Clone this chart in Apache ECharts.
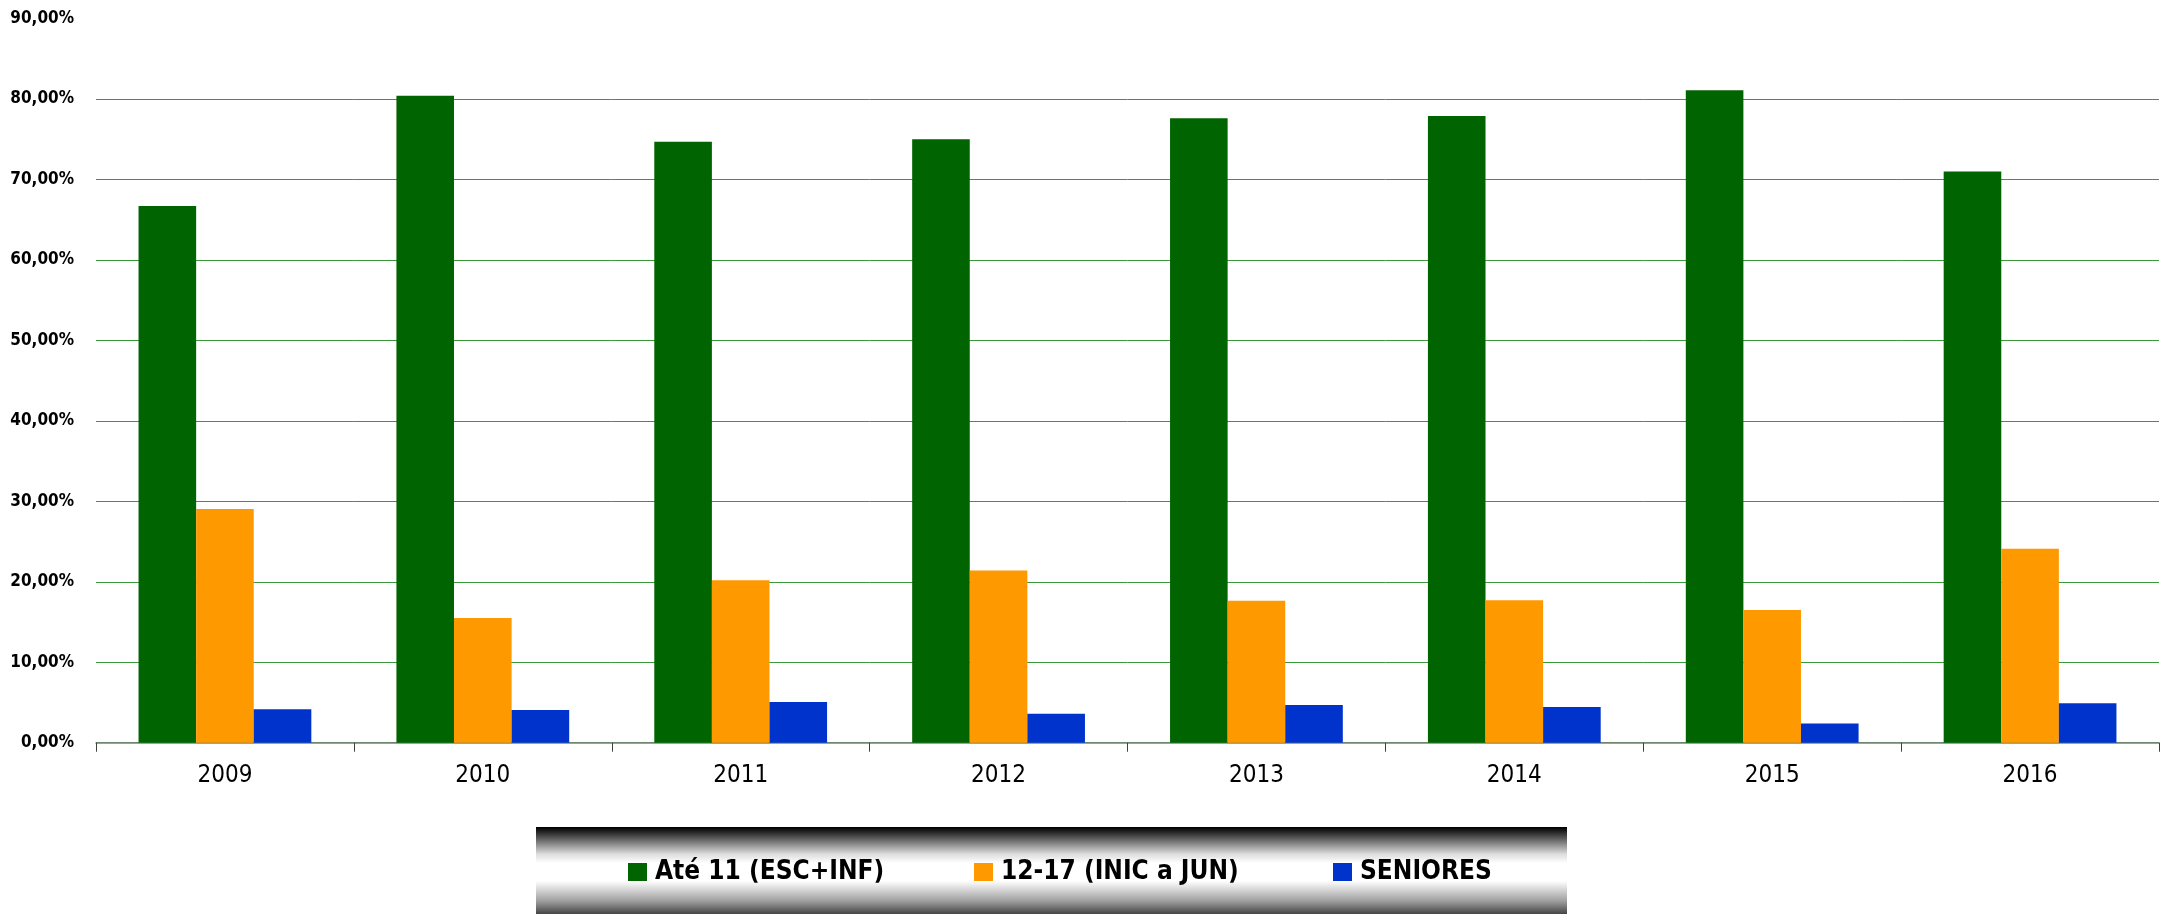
<!DOCTYPE html>
<html>
<head>
<meta charset="utf-8">
<script src="https://cdn.jsdelivr.net/npm/echarts@6/dist/echarts.min.js"></script>
<style>
html,body{margin:0;padding:0;background:#fff;}
#chart{width:2169px;height:914px;}
</style>
</head>
<body>
<div id="chart"></div>
<script>
const categories = ['2009', '2010', '2011', '2012', '2013', '2014', '2015', '2016'];
const seriesNames = ['Até 11 (ESC+INF)', '12-17 (INIC a JUN)', 'SENIORES'];
const ate11 = [66.7, 80.4, 74.7, 75.0, 77.6, 77.9, 81.1, 71.0];
const inicJun = [29.05, 15.5, 20.2, 21.4, 17.65, 17.7, 16.5, 24.1];
const seniores = [4.15, 4.05, 5.05, 3.6, 4.7, 4.45, 2.4, 4.9];
const colors = ['#006400', '#FF9900', '#0033CC'];

const FONT = '"DejaVu Sans Condensed", "Liberation Sans Narrow", sans-serif';
const legendLefts = [628, 974, 1333];

const chart = echarts.init(document.getElementById('chart'), null, {renderer: 'canvas'});

const legends = seriesNames.map((n, i) => ({
  z: 10,
  left: legendLefts[i],
  top: 857,
  padding: 0,
  itemWidth: 19,
  itemHeight: 18,
  icon: 'rect',
  textStyle: {fontFamily: FONT, fontWeight: 'bold', fontSize: 26, color: '#000', lineHeight: 30, padding: [0, 0, 0, 3]},
  data: [n]
}));

chart.setOption({
  animation: false,
  backgroundColor: '#ffffff',
  grid: {left: 96, right: 10, top: 18.6, bottom: 171.3},
  graphic: [{
    type: 'rect',
    z: 0,
    shape: {x: 536, y: 827, width: 1031, height: 90},
    style: {
      fill: new echarts.graphic.LinearGradient(0, 0, 0, 1, [
        {offset: 0, color: '#000000'},
        {offset: 0.04, color: '#1a1a1a'},
        {offset: 0.3, color: '#dcdcdc'},
        {offset: 0.4, color: '#ffffff'},
        {offset: 0.6, color: '#ffffff'},
        {offset: 0.82, color: '#a0a0a0'},
        {offset: 1, color: '#303030'}
      ])
    }
  }],
  legend: legends,
  xAxis: {
    type: 'category',
    data: categories,
    axisLine: {lineStyle: {color: '#808080', width: 1.5}},
    axisTick: {show: true, length: 9, lineStyle: {color: '#404040'}},
    axisLabel: {fontFamily: FONT, fontSize: 24, color: '#000', margin: 21}
  },
  yAxis: {
    type: 'value',
    min: 0,
    max: 90,
    interval: 10,
    axisLine: {show: false},
    axisTick: {show: false},
    splitLine: {show: true, showMaxLine: false, lineStyle: {color: '#3a9a3a', width: 1}},
    axisLabel: {
      fontFamily: FONT, fontWeight: 'bold', fontSize: 17, color: '#000', margin: 22,
      formatter: v => v.toFixed(2).replace('.', ',') + '%'
    }
  },
  series: [
    {name: seriesNames[0], type: 'bar', data: ate11, itemStyle: {color: colors[0]}, barCategoryGap: '33%', barGap: '0%'},
    {name: seriesNames[1], type: 'bar', data: inicJun, itemStyle: {color: colors[1]}, barCategoryGap: '33%', barGap: '0%'},
    {name: seriesNames[2], type: 'bar', data: seniores, itemStyle: {color: colors[2]}, barCategoryGap: '33%', barGap: '0%'}
  ]
});
</script>
</body>
</html>
